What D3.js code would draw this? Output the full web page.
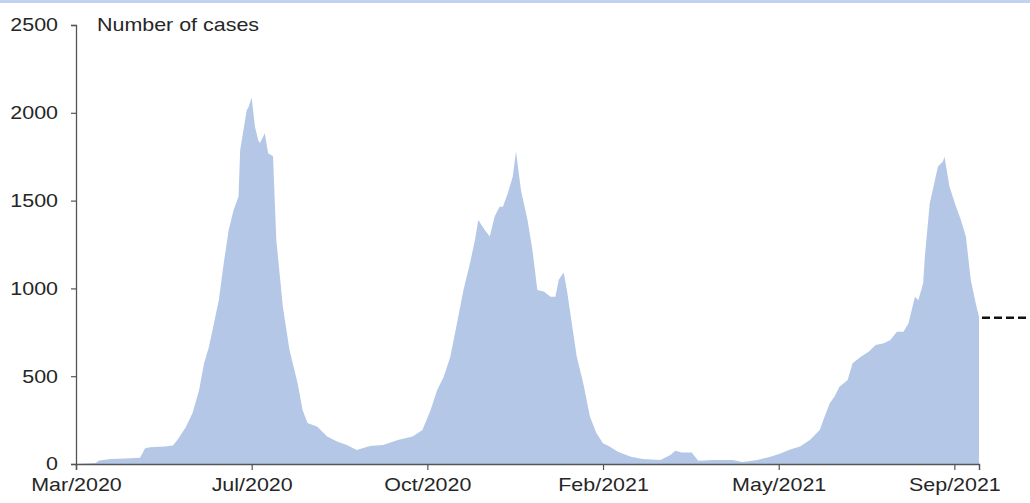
<!DOCTYPE html>
<html>
<head>
<meta charset="utf-8">
<script src="https://cdn.jsdelivr.net/npm/d3@7"></script>
<style>
  html, body { margin: 0; padding: 0; background: #fff; }
  svg { display: block; }
  text { font-family: "Liberation Sans", Arial, sans-serif; fill: #262626; }
</style>
</head>
<body>
<svg id="chart" width="1030" height="503"></svg>
<script>
// ---- Data ----
const dates = [
  "2020-03-21","2020-04-02","2020-04-04","2020-04-11","2020-04-20","2020-04-29","2020-05-02","2020-05-05",
  "2020-05-14","2020-05-19","2020-05-22","2020-05-27","2020-05-31","2020-06-04","2020-06-07","2020-06-10",
  "2020-06-13","2020-06-16","2020-06-19","2020-06-22","2020-06-25","2020-06-28","2020-06-29","2020-07-03",
  "2020-07-04","2020-07-06","2020-07-08","2020-07-10","2020-07-11","2020-07-14","2020-07-16","2020-07-19",
  "2020-07-21","2020-07-25","2020-07-29","2020-08-03","2020-08-06","2020-08-09","2020-08-15","2020-08-21",
  "2020-08-27","2020-09-02","2020-09-08","2020-09-16","2020-09-24","2020-10-03","2020-10-12","2020-10-18",
  "2020-10-23","2020-10-27","2020-10-31","2020-11-04","2020-11-08","2020-11-12","2020-11-16","2020-11-19",
  "2020-11-21","2020-11-25","2020-11-28","2020-12-01","2020-12-04","2020-12-06","2020-12-09","2020-12-12",
  "2020-12-14","2020-12-17","2020-12-21","2020-12-24","2020-12-27","2020-12-31","2021-01-04","2021-01-07",
  "2021-01-09","2021-01-12","2021-01-14","2021-01-17","2021-01-20","2021-01-24","2021-01-28","2021-02-01",
  "2021-02-05","2021-02-09","2021-02-14","2021-02-22","2021-03-01","2021-03-12","2021-03-18","2021-03-21",
  "2021-03-25","2021-03-31","2021-04-04","2021-04-13","2021-04-25","2021-05-01","2021-05-10","2021-05-18",
  "2021-05-24","2021-05-30","2021-06-05","2021-06-11","2021-06-17","2021-06-20","2021-06-23","2021-06-26",
  "2021-06-29","2021-07-04","2021-07-07","2021-07-12","2021-07-17","2021-07-21","2021-07-26","2021-07-30",
  "2021-08-03","2021-08-07","2021-08-10","2021-08-14","2021-08-16","2021-08-19","2021-08-20","2021-08-23",
  "2021-08-28","2021-08-31","2021-09-01","2021-09-04","2021-09-08","2021-09-11","2021-09-14","2021-09-17",
  "2021-09-20","2021-09-22"
];
const cases = [
  0,5,20,28,32,35,88,95,
  100,105,140,212,290,422,574,668,
  800,934,1144,1332,1446,1523,1788,2016,
  2030,2085,1921,1843,1828,1884,1770,1752,
  1276,896,650,460,307,233,212,156,
  128,108,80,102,108,137,156,193,
  307,422,497,611,800,991,1144,1276,
  1390,1332,1295,1409,1465,1465,1542,1636,
  1780,1561,1390,1218,991,982,953,953,
  1048,1090,991,800,611,459,270,175,
  118,99,70,42,28,23,51,75,
  65,65,19,23,23,12,23,42,
  60,83,99,137,193,270,345,384,
  440,478,574,611,640,678,687,706,
  753,753,800,953,933,1029,1180,1484,
  1694,1722,1750,1580,1465,1390,1295,1048,
  915,839
];
const tickDates = ["2020-03-21","2020-07-06","2020-10-21","2021-02-05","2021-05-23","2021-09-07"];
const tickLabels = ["Mar/2020","Jul/2020","Oct/2020","Feb/2021","May/2021","Sep/2021"];
const yTicks = [0, 500, 1000, 1500, 2000, 2500];
const refLevel = 833;
const yTitle = "Number of cases";

// ---- Chart ----
const W = 1030, H = 503;
const parse = d3.utcParse("%Y-%m-%d");
const data = dates.map((d, i) => ({ date: parse(d), value: cases[i] }));
const ticks = tickDates.map(parse);

const x = d3.scaleUtc()
  .domain([data[0].date, data[data.length - 1].date])
  .range([76, 979]);
const y = d3.scaleLinear().domain([0, 2500]).range([464, 25]);

const svg = d3.select("#chart");
svg.append("rect").attr("width", W).attr("height", H).attr("fill", "#fff");

// faint top border (bottom of a cut-off title box)
svg.append("line")
  .attr("x1", 0).attr("x2", W).attr("y1", 1.5).attr("y2", 1.5)
  .attr("stroke", "#c3d3ef").attr("stroke-width", 3);

// area
const area = d3.area()
  .x(d => x(d.date))
  .y0(y(0))
  .y1(d => y(d.value))
  .curve(d3.curveLinear);
svg.append("path").datum(data)
  .attr("d", area)
  .attr("fill", "#b4c7e7");

const SX = 1.16; // horizontal stretch of the reference's lettering
const FS = "18.5px";

// y axis
const yAxis = d3.axisLeft(y).tickValues(yTicks).tickSize(5).tickPadding(13).tickFormat(d3.format("d"));
const gy = svg.append("g").attr("transform", "translate(76,0)").call(yAxis);
gy.select(".domain").attr("stroke", "#555").attr("stroke-width", 1.3);
gy.selectAll(".tick line").attr("stroke", "#555").attr("stroke-width", 1.2);
gy.selectAll(".tick text")
  .style("font-size", FS)
  .attr("x", -18 / SX)
  .attr("transform", `scale(${SX},1)`);

// x axis
const xAxis = d3.axisBottom(x).tickValues(ticks).tickSize(6).tickPadding(8)
  .tickFormat((d, i) => tickLabels[i]);
const gx = svg.append("g").attr("transform", `translate(0,${y(0)})`).call(xAxis);
gx.select(".domain").attr("stroke", "#555").attr("stroke-width", 1.5);
gx.selectAll(".tick line").attr("stroke", "#555").attr("stroke-width", 1.2);
gx.selectAll(".tick text")
  .style("font-size", FS)
  .attr("transform", `scale(${SX},1)`);
// keep centres on ticks after stretching
gx.selectAll(".tick").each(function () {
  const t = d3.select(this);
  const tr = t.attr("transform");
  const m = /translate\(([-\d.]+)/.exec(tr);
  const tx = +m[1];
  t.select("text").attr("x", 0);
  t.select("line").attr("x1", 0);
});

// y title
svg.append("text")
  .attr("x", 97 / SX).attr("y", 31)
  .attr("transform", `scale(${SX},1)`)
  .style("font-size", FS)
  .text(yTitle);

// reference dashed level
svg.append("line")
  .attr("x1", x(data[data.length - 1].date) + 3).attr("x2", W)
  .attr("y1", y(refLevel)).attr("y2", y(refLevel))
  .attr("stroke", "#111").attr("stroke-width", 2.5)
  .attr("stroke-dasharray", "8,4");
</script>
</body>
</html>
